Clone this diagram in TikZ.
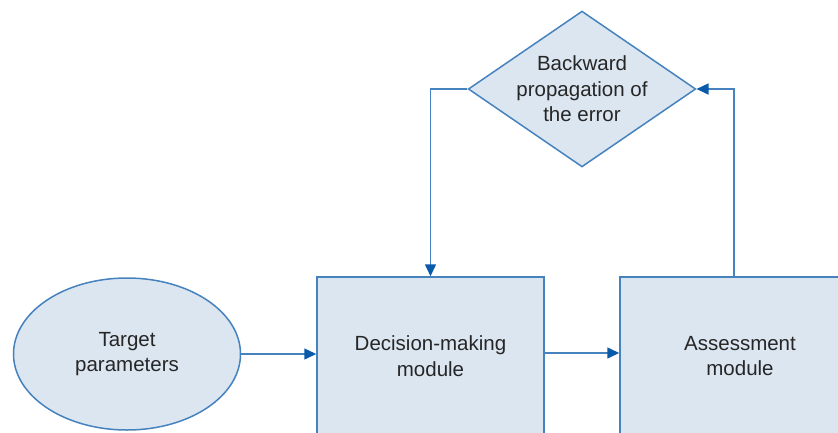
\documentclass[tikz,border=0pt]{standalone}
\usepackage{fontspec}
\setmainfont{Liberation Sans}
\usetikzlibrary{shapes.geometric,arrows.meta}
\definecolor{lineblue}{RGB}{70,130,190}
\definecolor{tipblue}{RGB}{10,90,170}
\definecolor{fillblue}{RGB}{220,230,241}
\tikzset{
  shp/.style={draw=lineblue, line width=1.5pt, fill=fillblue, inner sep=0pt, align=center,
    font=\fontsize{20.5pt}{25.5pt}\selectfont, text=black!85},
  modbox/.style={shp, rectangle},
  arr/.style={draw=lineblue, line width=1.5pt, -{Triangle[length=12pt,width=11pt,fill=tipblue,color=tipblue]}}
}
\begin{document}
\begin{tikzpicture}[x=1pt,y=-1pt]
\useasboundingbox (0,0) rectangle (838,432);
\clip (0,0) rectangle (838,432);
\node[shp, ellipse, minimum width=227pt, minimum height=152pt] (tp) at (127,354) {Target\\parameters};
\node[modbox, minimum width=227pt, minimum height=158pt] (dm) at (430.5,356) {Decision-making\\module};
\node[modbox, minimum width=240pt, minimum height=158pt] (am) at (740,356) {Assessment\\module};
\node[shp, diamond, aspect=1.46, minimum width=226pt, minimum height=155pt] (bp) at (582,89) {Backward\\propagation of\\the error};
\draw[arr] (tp.east) -- (tp.east -| dm.west);
\draw[arr] (dm.east |- 0,353) -- (am.west |- 0,353);
\draw[arr] ([xshift=-6pt]am.north) |- (bp.east);
\draw[arr] (bp.west) -| (dm.north);
\end{tikzpicture}
\end{document}
